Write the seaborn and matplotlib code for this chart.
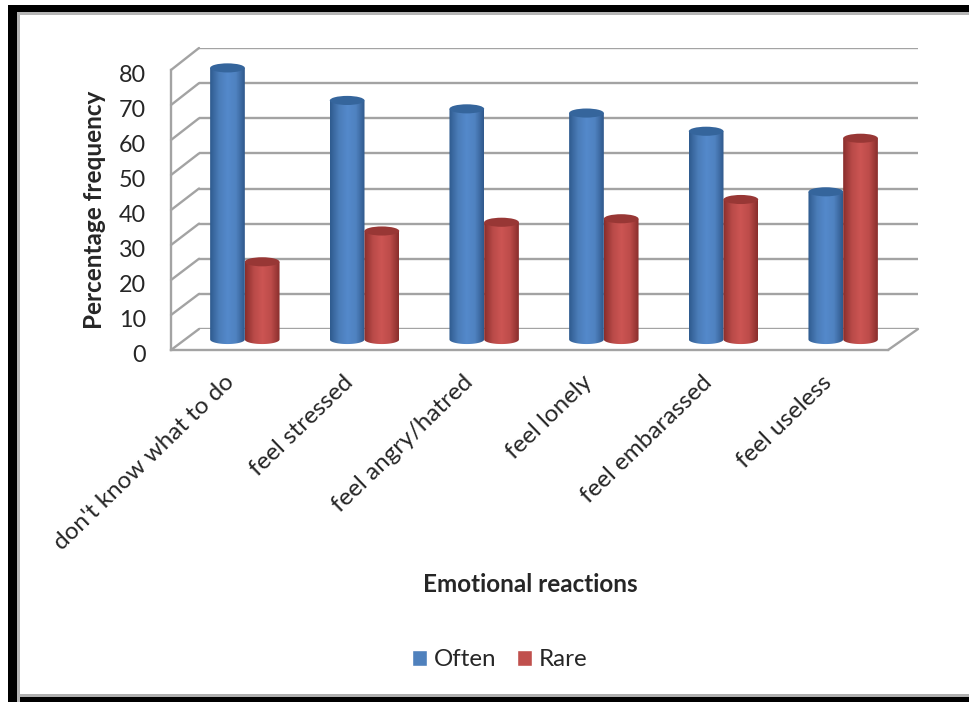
import numpy as np
import pandas as pd
import seaborn as sns
import matplotlib.pyplot as plt
from matplotlib.colors import LinearSegmentedColormap
from matplotlib.patches import ConnectionPatch, PathPatch, Ellipse, Rectangle
from matplotlib.path import Path
from matplotlib.transforms import ScaledTranslation

categories = ["don't know what to do", "feel stressed", "feel angry/hatred",
              "feel lonely", "feel embarassed", "feel useless"]
often = [77.6, 68.3, 65.9, 64.7, 59.5, 42.2]
rare = [22.2, 31, 33.5, 34.5, 40, 57.5]
series_names = ["Often", "Rare"]
y_ticks = [0, 10, 20, 30, 40, 50, 60, 70, 80]

W, H = 970, 702
sns.set_theme(style="white")
plt.rcParams["font.family"] = ["Lato", "DejaVu Sans"]
TEXT = "#262626"
GRID = "#a3a3a3"

fig = plt.figure(figsize=(W / 100, H / 100), dpi=100, facecolor="white")


def box(left, top, right, bottom):
    return fig.add_axes([left / W, 1 - bottom / H, (right - left) / W, (bottom - top) / H],
                        facecolor="none")


# Outer frame: heavy black band with a thin grey inner rule
for x0, y0, x1, y1, col in [(8, 5, 970, 12, "black"), (8, 5, 17, 702, "black"),
                            (17, 12, 970, 15, "#b5b5b5"), (17, 12, 20, 702, "#b5b5b5"),
                            (20, 696, 970, 702, "black"), (20, 694, 970, 697, "#b0b0b0")]:
    fig.add_artist(Rectangle((x0 / W, 1 - y1 / H), (x1 - x0) / W, (y1 - y0) / H,
                             transform=fig.transFigure, fc=col, ec="none"))

# Three parallel planes give the oblique depth: back wall, front axis, bar plane
FLOOR = -4
back = box(199, 48, 918, 329)
front = box(171, 70, 888, 350)
bars = box(185, 59.5, 903, 353.5)
for ax in (back, front):
    ax.set_xlim(-0.5, 5.5)
    ax.set_ylim(0, 80)

back.set_xticks([])
back.set_yticks(y_ticks)
back.tick_params(left=False, labelleft=False)
back.grid(axis="y", color=GRID, lw=1.7)
back.set_axisbelow(True)
sns.despine(ax=back, left=True, bottom=True)

# Front axis with real ticks and labels
sns.despine(ax=front)
for s in ("left", "bottom"):
    front.spines[s].set_color(GRID)
    front.spines[s].set_linewidth(1.7)
front.set_yticks(y_ticks)
front.set_xticks(np.arange(6))
front.set_xticklabels(categories, rotation=44, ha="right", va="center",
                      rotation_mode="anchor", fontsize=17.5, color=TEXT)
front.set_xticks(np.arange(7) - 0.5, minor=True)
front.tick_params(axis="x", which="major", length=0, pad=21)
front.tick_params(axis="x", which="minor", length=6, width=1.7, color=GRID)
front.tick_params(axis="y", length=6, width=1.7, color=GRID, pad=12, labelsize=16.8,
                  labelcolor=TEXT)
# Value labels sit a little below their ticks
nudge = ScaledTranslation(0, -2.5 / 72, fig.dpi_scale_trans)
for lab in front.get_yticklabels():
    lab.set_transform(lab.get_transform() + nudge)
front.set_ylabel("Percentage frequency", fontsize=17.5, fontweight="bold", color=TEXT, va="center")
front.yaxis.set_label_coords((95 - 171) / 717, 0.5)
front.set_xlabel("Emotional reactions", fontsize=17.5, fontweight="bold", color=TEXT, va="center")
front.xaxis.set_label_coords((530 - 171) / 717, (350 - 584) / 280)

# Depth connectors from the front axis to the back wall
for v in y_ticks:
    fig.add_artist(ConnectionPatch((-0.5, v), (-0.5, v), coordsA=front.transData,
                                   coordsB=back.transData, color=GRID, lw=1.7))
fig.add_artist(ConnectionPatch((5.5, 0), (5.5, 0), coordsA=front.transData,
                               coordsB=back.transData, color=GRID, lw=1.7))

# Bars
table = pd.DataFrame({
    "category": categories * 2,
    "series": np.repeat(series_names, len(categories)),
    "value": often + rare,
})
shades = {
    "Often": ["#2f5b8f", "#4a7cb8", "#5489cb", "#4f82c0", "#30598c"],
    "Rare": ["#8a2e2c", "#b94a48", "#cc5553", "#bd4c4a", "#8a2e2c"],
}
caps = {"Often": "#35659c", "Rare": "#983735"}
palette = {"Often": "#4f81bd", "Rare": "#c0504d"}

sns.barplot(data=table, x="category", y="value", hue="series", hue_order=series_names,
            palette=palette, width=0.58, gap=0, dodge=True, ax=bars, saturation=1)
handles, labels = bars.get_legend_handles_labels()
bars.get_legend().remove()
bars.axis("off")

CAP_H = 2.6
for name, container in zip(series_names, bars.containers):
    cmap = LinearSegmentedColormap.from_list(name, shades[name])
    for rect in container:
        x, w, h = rect.get_x(), rect.get_width(), rect.get_height()
        rect.set_visible(False)
        # Cylinder body: straight sides closed by a half ellipse along the floor
        t = np.linspace(np.pi, 2 * np.pi, 30)
        xs = x + w / 2 + w / 2 * np.cos(t)
        ys = CAP_H / 2 * np.sin(t)
        verts = np.column_stack([np.r_[xs, x + w, x, x], np.r_[ys, h, h, ys[0]]])
        outline = PathPatch(Path(verts), fc="none", ec="none", transform=bars.transData)
        bars.add_patch(outline)
        img = bars.imshow(np.linspace(0, 1, 64)[None, :], cmap=cmap, aspect="auto",
                          extent=(x, x + w, -CAP_H, h), zorder=3, interpolation="bilinear")
        img.set_clip_path(outline)
        bars.add_patch(Ellipse((x + w / 2, h), w, CAP_H, fc=caps[name], ec="none", zorder=4))
bars.set_xlim(-0.5, 5.5)
bars.set_ylim(FLOOR, 80)

fig.legend(handles, labels, loc="center", bbox_to_anchor=(500 / W, 1 - 660 / H), ncol=2,
           frameon=False, fontsize=17.4, labelcolor=TEXT, handlelength=0.6, handleheight=0.6,
           handletextpad=0.29, columnspacing=0.87)

fig.savefig("out.png", dpi=100)
